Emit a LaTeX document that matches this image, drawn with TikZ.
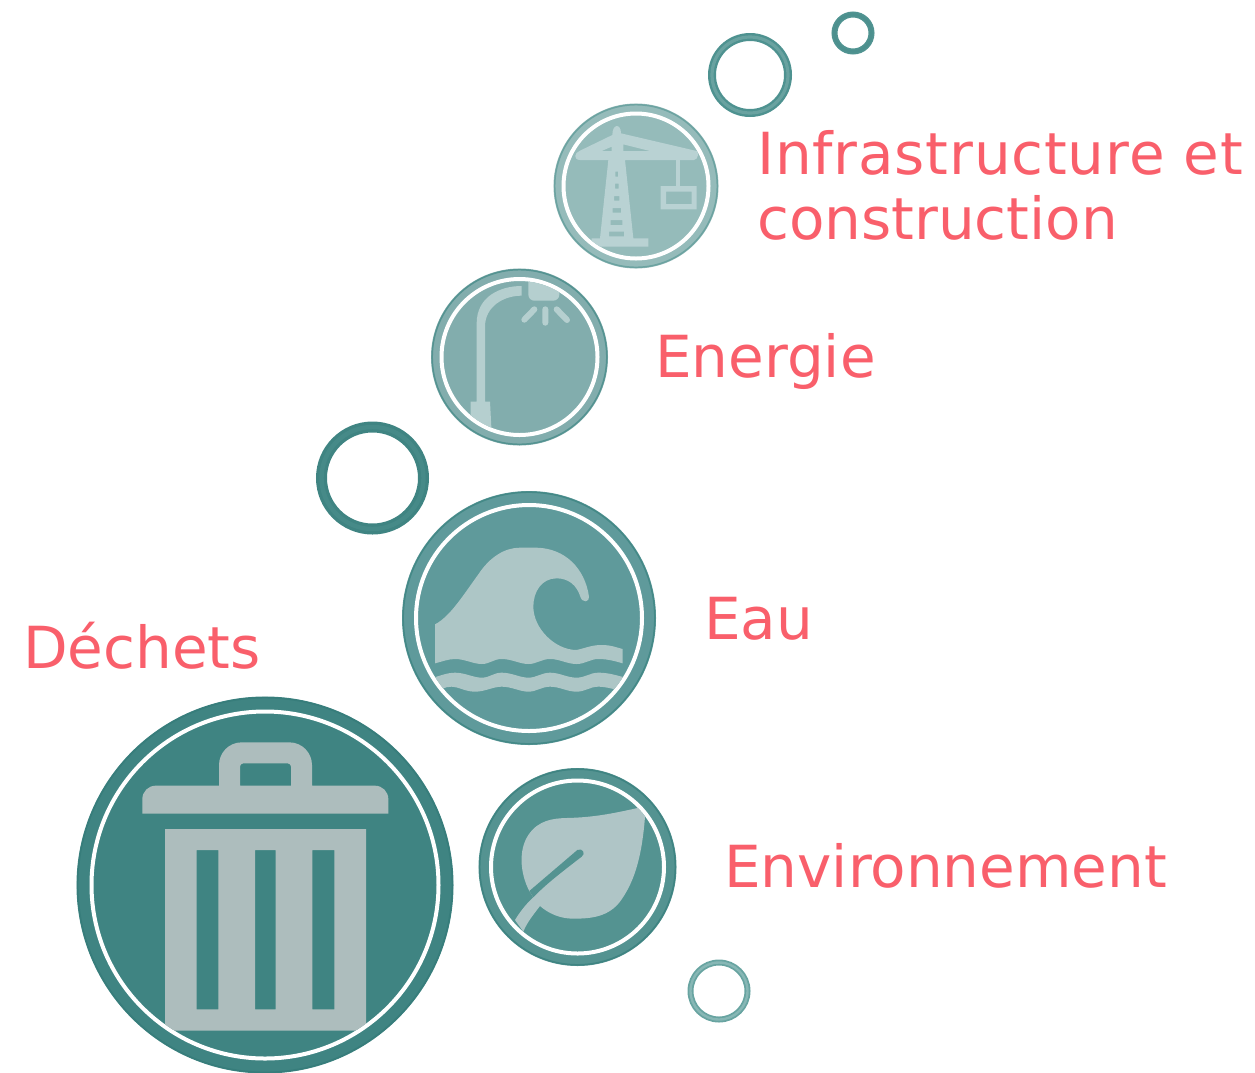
\documentclass[tikz,border=0pt]{standalone}
\usepackage{fontspec}
\setmainfont{DejaVu Sans}
\definecolor{lbl}{HTML}{F95F6B}
\definecolor{cCrane}{RGB}{149,187,186}
\definecolor{cCraneE}{RGB}{108,163,161}
\definecolor{iCrane}{RGB}{185,210,211}
\definecolor{cLamp}{RGB}{130,173,173}
\definecolor{cLampE}{RGB}{84,147,145}
\definecolor{iLamp}{RGB}{181,207,207}
\definecolor{cWave}{RGB}{95,154,155}
\definecolor{cWaveE}{RGB}{68,137,135}
\definecolor{iWave}{RGB}{173,198,198}
\definecolor{cLeaf}{RGB}{84,147,145}
\definecolor{cLeafE}{RGB}{63,132,130}
\definecolor{iLeaf}{RGB}{175,197,198}
\definecolor{cTrash}{RGB}{63,132,130}
\definecolor{cTrashE}{RGB}{55,125,123}
\definecolor{iTrash}{RGB}{173,189,189}
\tikzset{
  lab/.style={anchor=base west,inner sep=0pt,text=lbl,font=\fontsize{58}{65}\selectfont,align=left},
  zoomed/.style={x=0.33333pt,y=-0.33333pt},
}
\newcommand{\disc}[6]{% cx cy R r fill edge
  \fill[#5] (#1,#2) circle[radius=#3];
  \draw[#6,line width=1.5pt] (#1,#2) circle[radius=#3-1.2];
  \draw[white,line width=4pt] (#1,#2) circle[radius=#4];
}
\newcommand{\bubble}[6]{% cx cy r width edge core
  \draw[#5,line width=#4pt] (#1,#2) circle[radius=#3];
  \draw[#6,line width=#4pt*0.4] (#1,#2) circle[radius=#3];
}
\begin{document}
\begin{tikzpicture}[x=1pt,y=-1pt]
\useasboundingbox (0,0) rectangle (1255,1072);
% bubbles
\definecolor{bA}{RGB}{80,147,145}\definecolor{bAc}{RGB}{76,144,142}
\definecolor{bB}{RGB}{78,146,144}\definecolor{bBc}{RGB}{105,162,160}
\definecolor{bC}{RGB}{63,132,130}\definecolor{bCc}{RGB}{70,138,136}
\definecolor{bD}{RGB}{104,164,161}\definecolor{bDc}{RGB}{135,183,181}
\bubble{853}{33}{18.5}{6}{bA}{bAc}
\bubble{750}{75}{38}{8}{bB}{bBc}
\bubble{372.5}{478}{51}{11}{bC}{bCc}
\bubble{719}{991}{28.5}{6}{bD}{bDc}
% crane
\disc{636}{186}{82.5}{72.5}{fill=cCrane}{draw=cCraneE}
\begin{scope}
\clip (636,186) circle[radius=70.5];
\begin{scope}[shift={(540,90)},zoomed]
\fill[even odd rule,fill=iCrane]
 (217,135) .. controls (217,100) and (243,100) .. (243,130) -- (470,183)
 .. controls (476,186) and (476,208) .. (462,210) -- (420,210) -- (255,210)
 -- (280,445) -- (325,445) -- (325,470) -- (155,470) -- (155,445) -- (180,445) -- (205,210) -- (120,210)
 .. controls (100,210) and (102,188) .. (120,182) -- cycle
 (185,183) -- (215,170) -- (215,183) -- cycle
 (250,163) -- (330,183) -- (250,183) -- cycle
 (226,245) rectangle (234,260)
 (225,281) rectangle (236,296)
 (222,318) rectangle (238,332)
 (218,354) rectangle (243,368)
 (212,390) rectangle (247,405)
 (207,425) rectangle (252,439)
 (362,288) rectangle (470,358)
 (378,305) rectangle (455,342);
\fill[fill=iCrane] (408,205) rectangle (420,290);
\end{scope}
\end{scope}
% lamp
\disc{519.5}{357}{88.5}{78}{fill=cLamp}{draw=cLampE}
\begin{scope}
\clip (519.5,357) circle[radius=76];
\begin{scope}[shift={(420,260)},zoomed]
\fill[fill=iLamp]
 (305,78) .. controls (240,78) and (170,110) .. (170,190) -- (170,425) -- (152,425) -- (152,520) -- (215,520) -- (210,425) -- (195,425) -- (195,200)
 .. controls (195,140) and (250,107) .. (305,107) -- cycle;
\fill[fill=iLamp,rounded corners=6pt] (325,50) -- (325,122) -- (418,122) -- (418,50) -- cycle;
\draw[line width=6pt,line cap=round,draw=iLamp] (313,179) -- (343,148) (376,148) -- (376,188) (410,148) -- (441,180);
\end{scope}
\end{scope}
% wave
\disc{529}{618}{127}{113}{fill=cWave}{draw=cWaveE}
\begin{scope}
\clip (529,618) circle[radius=111];
\begin{scope}[shift={(395,485)},zoomed]
\fill[fill=iWave]
 (120,418) .. controls (165,395) and (205,330) .. (250,268)
 .. controls (285,215) and (330,188) .. (375,188) -- (425,188)
 .. controls (510,190) and (570,250) .. (582,335)
 .. controls (584,352) and (562,355) .. (556,335)
 .. controls (545,300) and (520,280) .. (485,280)
 .. controls (440,280) and (415,320) .. (415,365)
 .. controls (415,430) and (480,495) .. (545,495)
 .. controls (575,488) and (590,480) .. (620,480)
 .. controls (650,480) and (665,488) .. (683,492) -- (683,535)
 .. controls (650,525) and (630,522) .. (610,522)
 .. controls (585,522) and (570,537) .. (545,537)
 .. controls (515,537) and (495,522) .. (465,522)
 .. controls (440,522) and (425,537) .. (400,537)
 .. controls (375,537) and (350,522) .. (320,522)
 .. controls (295,522) and (285,537) .. (260,537)
 .. controls (235,537) and (210,522) .. (180,522)
 .. controls (160,522) and (140,530) .. (120,535) -- cycle;
\fill[fill=iWave]
 (110,580) .. controls (140,570) and (160,563) .. (180,563)
 .. controls (210,563) and (235,578) .. (260,578)
 .. controls (285,578) and (295,563) .. (320,563)
 .. controls (350,563) and (375,578) .. (400,578)
 .. controls (425,578) and (440,563) .. (465,563)
 .. controls (495,563) and (515,578) .. (545,578)
 .. controls (570,578) and (585,563) .. (610,563)
 .. controls (640,563) and (660,570) .. (700,580)
 -- (700,625)
 .. controls (660,612) and (630,605) .. (610,605)
 .. controls (585,605) and (570,620) .. (545,620)
 .. controls (515,620) and (495,605) .. (465,605)
 .. controls (440,605) and (425,620) .. (400,620)
 .. controls (375,620) and (350,605) .. (320,605)
 .. controls (295,605) and (270,620) .. (240,620)
 .. controls (210,620) and (190,605) .. (170,605)
 .. controls (150,605) and (130,615) .. (110,625) -- cycle;
\end{scope}
\end{scope}
% leaf
\disc{577.5}{867}{99}{86.5}{fill=cLeaf}{draw=cLeafE}
\begin{scope}
\clip (577.5,867) circle[radius=84.5];
\begin{scope}[shift={(470,760)},zoomed]
\fill[fill=iLeaf]
 (530,138) -- (525,170) .. controls (515,300) and (490,370) .. (450,425)
 .. controls (415,470) and (365,476) .. (310,476)
 .. controls (270,476) and (235,460) .. (210,438)
 .. controls (185,470) and (170,490) .. (160,515) -- (135,480)
 .. controls (150,455) and (170,430) .. (190,412) -- (178,393)
 .. controls (150,340) and (145,270) .. (175,225)
 .. controls (205,180) and (250,175) .. (290,174)
 .. controls (380,172) and (440,158) .. (530,138) -- cycle;
\fill[fill=cLeaf]
 (178,393) -- (322,270) .. controls (338,262) and (348,282) .. (335,290)
 .. controls (270,340) and (225,375) .. (190,412) -- cycle;
\end{scope}
\end{scope}
% trash
\disc{265}{885}{188.5}{173.5}{fill=cTrash}{draw=cTrashE}
\begin{scope}
\clip (265,885) circle[radius=171.5];
\begin{scope}[shift={(70,690)},zoomed]
\fill[even odd rule,fill=iTrash]
 (217,371) -- (217,327) arc[start angle=180,end angle=270,radius=40] -- (447,287) -- (447,225)
 arc[start angle=180,end angle=270,radius=68] -- (658,157) arc[start angle=270,end angle=360,radius=68] -- (726,287) -- (915,287)
 arc[start angle=270,end angle=360,radius=40] -- (955,371) -- cycle
 (510,287) -- (510,230) arc[start angle=180,end angle=270,radius=10] -- (653,220) arc[start angle=270,end angle=360,radius=10] -- (663,287) -- cycle;
\fill[even odd rule,fill=iTrash]
 (285,417) rectangle (888,1022)
 (380,480) rectangle (445,958)
 (555,480) rectangle (617,958)
 (727,480) rectangle (793,958);
\end{scope}
\end{scope}
% labels
\node[lab] (infra) at (757,239) {\addfontfeature{LetterSpace=1.4}Infrastructure et\\construction};
\node[lab] (energie) at (655,377) {Energie};
\node[lab] (eau) at (704,639) {Eau};
\node[lab] (dechets) at (23,668) {Déchets};
\node[lab] (env) at (724,887) {Environnement};
\end{tikzpicture}
\end{document}
